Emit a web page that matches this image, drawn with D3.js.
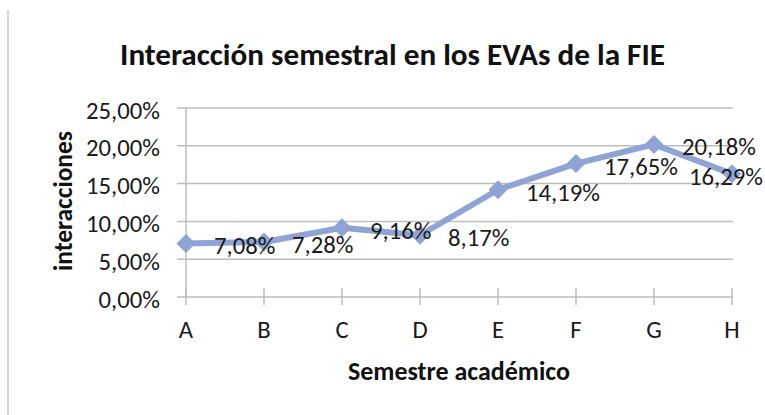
<!DOCTYPE html>
<html>
<head>
<meta charset="utf-8">
<script src="https://cdn.jsdelivr.net/npm/d3@7"></script>
<style>
  html, body { margin: 0; padding: 0; background: #fff; }
  svg { display: block; }
  text { font-family: Carlito, Calibri, Lato, "Open Sans", sans-serif; }
</style>
</head>
<body>
<svg id="chart" width="765" height="415"></svg>
<script>
// ---- data ----
const categories = ["A", "B", "C", "D", "E", "F", "G", "H"];
const values = [7.08, 7.28, 9.16, 8.17, 14.19, 17.65, 20.18, 16.29];
const yTicks = [0, 5, 10, 15, 20, 25];
const titleText = "Interacción semestral en los EVAs de la FIE";
const xTitleText = "Semestre académico";
const yTitleText = "interacciones";

const fmt = v => v.toFixed(2).replace(".", ",") + "%";

const svg = d3.select("#chart");
const W = 765, H = 415;

// helper: fit text to a target width by adjusting font-size
function fit(sel, target, base) {
  sel.attr("font-size", base);
  const w = sel.node().getComputedTextLength();
  const fs = base * target / w;
  sel.attr("font-size", fs);
  return fs;
}

// left frame line
svg.append("line")
  .attr("x1", 8).attr("x2", 8).attr("y1", 10).attr("y2", H)
  .attr("stroke", "#c6c6c6").attr("stroke-width", 1.5);

// scales
const x = d3.scalePoint().domain(categories).range([186, 732]);
const y = d3.scaleLinear().domain([0, 25]).range([297, 108]);

const gridColor = "#bdbdbd";

// gridlines
svg.append("g").selectAll("line").data(yTicks).join("line")
  .attr("x1", 177).attr("x2", 733)
  .attr("y1", d => y(d)).attr("y2", d => y(d))
  .attr("stroke", gridColor).attr("stroke-width", 1.5);

// y axis line
svg.append("line")
  .attr("x1", x("A")).attr("x2", x("A"))
  .attr("y1", y(25)).attr("y2", y(0))
  .attr("stroke", gridColor).attr("stroke-width", 1.5);

// x ticks (cross)
svg.append("g").selectAll("line").data(categories).join("line")
  .attr("x1", d => x(d)).attr("x2", d => x(d))
  .attr("y1", y(0) - 9).attr("y2", y(0) + 8)
  .attr("stroke", gridColor).attr("stroke-width", 1.5);

// measure tick font size
const probe = svg.append("text").text(fmt(25));
const tickFs = fit(probe, 74, 22);
probe.remove();

// y tick labels
svg.append("g").selectAll("text").data(yTicks).join("text")
  .attr("x", 160).attr("y", d => y(d) + 2)
  .attr("text-anchor", "end").attr("dominant-baseline", "central")
  .attr("font-size", tickFs).attr("fill", "#1a1a1a")
  .text(d => fmt(d));

// x tick labels
svg.append("g").selectAll("text").data(categories).join("text")
  .attr("x", d => x(d)).attr("y", 338)
  .attr("text-anchor", "middle")
  .attr("font-size", tickFs).attr("fill", "#1a1a1a")
  .text(d => d);

// line
const lineColor = "#8fa4d4";
const line = d3.line().x((d, i) => x(categories[i])).y(d => y(d));
svg.append("path").datum(values)
  .attr("d", line).attr("fill", "none")
  .attr("stroke", lineColor).attr("stroke-width", 6)
  .attr("stroke-linejoin", "round");

// diamond markers
const r = 9.5;
svg.append("g").selectAll("path").data(values).join("path")
  .attr("d", (d, i) => {
    const cx = x(categories[i]), cy = y(d);
    return `M${cx},${cy - r}L${cx + r},${cy}L${cx},${cy + r}L${cx - r},${cy}Z`;
  })
  .attr("fill", lineColor);

// data labels (right of point)
const labels = svg.append("g").selectAll("text").data(values).join("text")
  .attr("y", d => y(d) + 2.5)
  .attr("dominant-baseline", "central")
  .attr("font-size", tickFs).attr("fill", "#1a1a1a")
  .text(d => fmt(d));
labels.each(function(d, i) {
  const t = d3.select(this);
  const w = this.getComputedTextLength();
  let lx = x(categories[i]) + 28;
  if (lx + w > 763) lx = 763 - w;
  t.attr("x", lx);
});

// title
const title = svg.append("text")
  .attr("x", 392.5).attr("y", 65)
  .attr("text-anchor", "middle").attr("font-weight", "bold")
  .attr("fill", "#111").text(titleText);
fit(title, 545, 28);

// x axis title
const xt = svg.append("text")
  .attr("x", 459).attr("y", 380)
  .attr("text-anchor", "middle").attr("font-weight", "bold")
  .attr("fill", "#111").text(xTitleText);
fit(xt, 222, 20);

// y axis title
const yt = svg.append("text")
  .attr("transform", "translate(72,201) rotate(-90)")
  .attr("text-anchor", "middle").attr("font-weight", "bold")
  .attr("fill", "#111").text(yTitleText);
fit(yt, 140, 20);
</script>
</body>
</html>
